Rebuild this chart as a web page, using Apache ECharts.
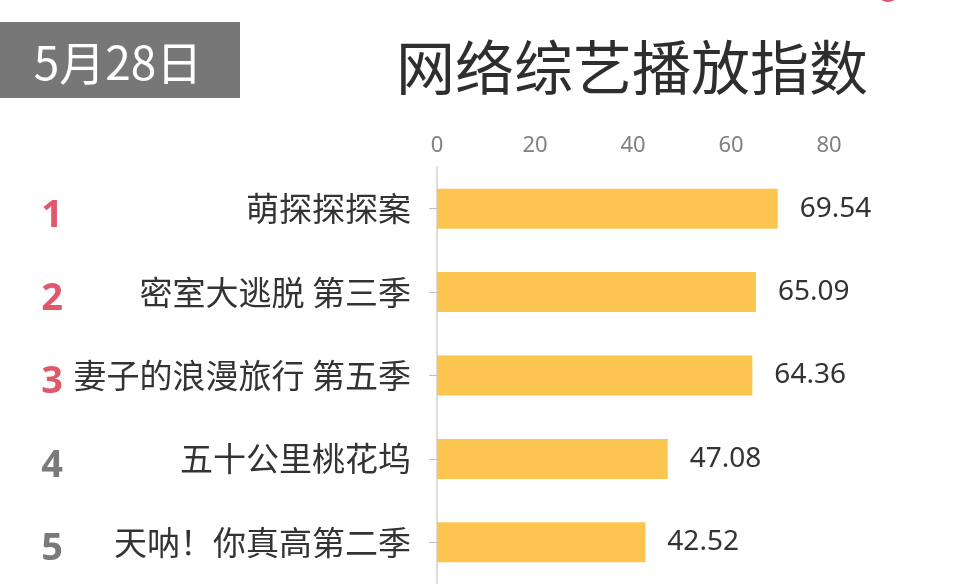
<!DOCTYPE html>
<html>
<head>
<meta charset="utf-8">
<style>
  html, body { margin: 0; padding: 0; background: #ffffff; }
  #chart { width: 955px; height: 584px; }
</style>
<script src="https://cdn.jsdelivr.net/npm/echarts/dist/echarts.min.js"></script>
</head>
<body>
<div id="chart"></div>
<script>
const categories = ['萌探探探案', '密室大逃脱 第三季', '妻子的浪漫旅行 第五季', '五十公里桃花坞', '天呐！你真高第二季'];
const values = [69.54, 65.09, 64.36, 47.08, 42.52];
const ranks = ['1', '2', '3', '4', '5'];
const xTicks = [0, 20, 40, 60, 80];
const titleText = '网络综艺播放指数';
const dateText = '5月28日';

const CJK = '"Noto Sans CJK SC", "Noto Sans", sans-serif';
const NUM = '"Noto Sans", "Open Sans", sans-serif';

const chart = echarts.init(document.getElementById('chart'));
chart.setOption({
  backgroundColor: '#ffffff',
  animation: false,
  grid: { left: 437, right: 126, top: 167, bottom: 0, containLabel: false },
  xAxis: {
    type: 'value',
    position: 'top',
    min: xTicks[0],
    max: xTicks[xTicks.length - 1],
    interval: xTicks[1] - xTicks[0],
    axisLine: { show: false },
    axisTick: { show: false },
    splitLine: { show: false },
    axisLabel: { color: '#808080', fontSize: 22, fontFamily: NUM, margin: 10 }
  },
  yAxis: [
    {
      type: 'category',
      data: categories,
      inverse: true,
      axisLine: { show: true, lineStyle: { color: '#d0d0d0', width: 1.5 } },
      axisTick: { show: true, alignWithLabel: true, length: 8, lineStyle: { color: '#bdbdbd' } },
      axisLabel: { color: '#333333', fontSize: 33, fontFamily: CJK, margin: 26 }
    },
    {
      type: 'category',
      data: ranks,
      inverse: true,
      position: 'left',
      offset: 385,
      axisLine: { show: false },
      axisTick: { show: false },
      axisLabel: {
        margin: 0,
        align: 'center',
        verticalAlign: 'top',
        lineHeight: 14,
        fontSize: 38,
        fontWeight: 'bold',
        fontFamily: NUM,
        color: function (v, i) { return i < 3 ? '#E0586B' : '#7a7a7a'; }
      }
    }
  ],
  series: [{
    type: 'bar',
    data: values,
    barWidth: 40,
    itemStyle: { color: '#FBC550' },
    label: {
      show: true,
      position: 'right',
      distance: 22,
      color: '#333333',
      fontSize: 28,
      fontFamily: NUM,
      formatter: function (p) { return p.value.toFixed(2); }
    }
  }],
  graphic: [
    {
      type: 'rect',
      shape: { x: 0, y: 22, width: 240, height: 76 },
      style: { fill: '#777777' }
    },
    {
      type: 'text',
      x: 118, y: 63,
      style: {
        text: dateText,
        fill: '#ffffff',
        font: '46px ' + CJK,
        textAlign: 'center',
        textVerticalAlign: 'middle'
      }
    },
    {
      type: 'text',
      x: 632, y: 68,
      style: {
        text: titleText,
        fill: '#2e2e2e',
        font: '59px ' + CJK,
        textAlign: 'center',
        textVerticalAlign: 'middle'
      }
    },
    {
      type: 'circle',
      shape: { cx: 888, cy: -10, r: 12 },
      style: { fill: '#E0586B' }
    }
  ]
});
</script>
</body>
</html>
